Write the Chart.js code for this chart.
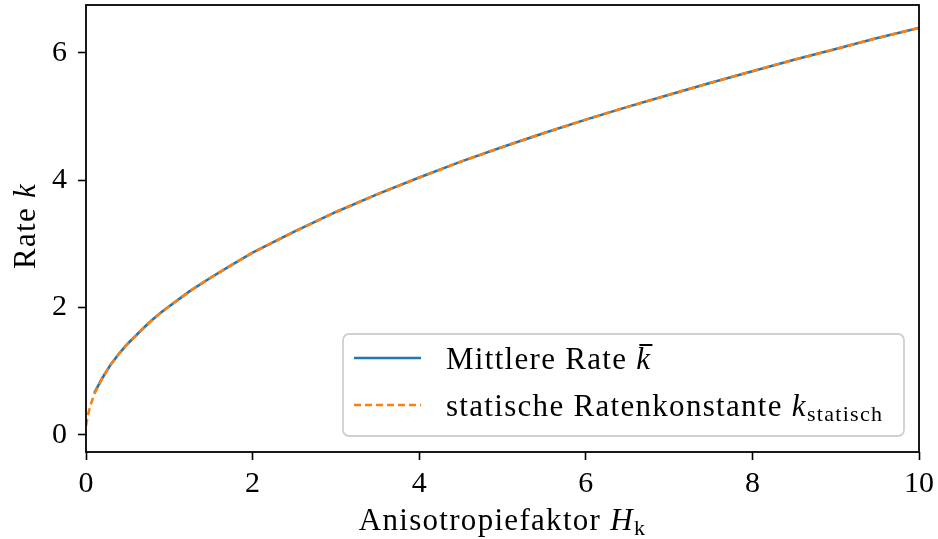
<!DOCTYPE html>
<html>
<head>
<meta charset="utf-8">
<script src="https://cdn.jsdelivr.net/npm/chart.js@4.4.1/dist/chart.umd.min.js"></script>
<style>
  html, body { margin: 0; padding: 0; background: #fff; }
  #wrap { width: 938px; height: 539px; }
</style>
</head>
<body>
<div id="wrap"><canvas id="rateChart" width="938" height="539"></canvas></div>
<script>
// mean rate (sampled)
const hMean = [0.1, 0.2, 0.3, 0.4, 0.5, 0.6, 0.7, 0.8, 0.9, 1.0, 1.25, 1.5, 1.75, 2.0, 2.5, 3.0, 3.5, 4.0, 4.5, 5.0, 5.5, 6.0, 6.5, 7.0, 7.5, 8.0, 8.5, 9.0, 9.5, 10.0];
const kMean = [0.66, 0.90, 1.11, 1.28, 1.43, 1.56, 1.69, 1.81, 1.92, 2.02, 2.26, 2.47, 2.67, 2.86, 3.19, 3.50, 3.78, 4.04, 4.29, 4.52, 4.74, 4.95, 5.15, 5.34, 5.53, 5.71, 5.89, 6.06, 6.23, 6.39];
// static rate constant
const hStatic = [0.0, 0.02, 0.05, 0.1, 0.2, 0.3, 0.4, 0.5, 0.6, 0.7, 0.8, 0.9, 1.0, 1.25, 1.5, 1.75, 2.0, 2.5, 3.0, 3.5, 4.0, 4.5, 5.0, 5.5, 6.0, 6.5, 7.0, 7.5, 8.0, 8.5, 9.0, 9.5, 10.0];
const kStatic = [0.14, 0.29, 0.45, 0.64, 0.90, 1.11, 1.28, 1.43, 1.56, 1.69, 1.81, 1.92, 2.02, 2.26, 2.47, 2.67, 2.86, 3.19, 3.50, 3.78, 4.04, 4.29, 4.52, 4.74, 4.95, 5.15, 5.34, 5.53, 5.71, 5.89, 6.06, 6.23, 6.39];
const xTicks = [0, 2, 4, 6, 8, 10];
const yTicks = [0, 2, 4, 6];

const FONT = '"Liberation Serif", "DejaVu Serif", serif';
const SPACING = '1.3px';
const toPts = (xs, ys) => xs.map((x, i) => ({x: x, y: ys[i]}));

// draws a run of text pieces, each with its own font and vertical shift
function drawRich(ctx, x, y, parts) {
    ctx.letterSpacing = SPACING;
    for (const p of parts) {
        ctx.font = p.font;
        ctx.fillText(p.text, x, y + (p.dy || 0));
        const w = ctx.measureText(p.text).width;
        if (p.bar) {
            ctx.fillRect(x + 3, y - 25, w - 2, 2);
        }
        x += w;
    }
    ctx.letterSpacing = '0px';
    return x;
}
function richWidth(ctx, parts) {
    let w = 0;
    ctx.letterSpacing = SPACING;
    for (const p of parts) { ctx.font = p.font; w += ctx.measureText(p.text).width; }
    ctx.letterSpacing = '0px';
    return w;
}

const decorations = {
    id: 'decorations',
    afterDraw(chart) {
        const ctx = chart.ctx;
        const a = chart.chartArea;
        ctx.save();
        // frame
        ctx.strokeStyle = '#000';
        ctx.lineWidth = 1.8;
        ctx.strokeRect(a.left, a.top, a.right - a.left, a.bottom - a.top);

        ctx.fillStyle = '#000';
        ctx.textBaseline = 'alphabetic';
        // x axis title
        const xt = [
            {text: 'Anisotropiefaktor ', font: '31px ' + FONT},
            {text: 'H', font: 'italic 31px ' + FONT},
            {text: 'k', font: '22px ' + FONT, dy: 5}
        ];
        const xw = richWidth(ctx, xt);
        drawRich(ctx, (a.left + a.right) / 2 - xw / 2, 530, xt);
        // y axis title
        const yt = [
            {text: 'Rate ', font: '31px ' + FONT},
            {text: 'k', font: 'italic 31px ' + FONT}
        ];
        const yw = richWidth(ctx, yt);
        ctx.translate(35, 226);
        ctx.rotate(-Math.PI / 2);
        drawRich(ctx, -yw / 2, 0, yt);
        ctx.setTransform(1, 0, 0, 1, 0, 0);

        // legend
        const bx = 343, by = 334, bw = 561, bh = 102;
        ctx.fillStyle = 'rgba(255,255,255,0.8)';
        ctx.strokeStyle = '#d0d0d0';
        ctx.lineWidth = 1.8;
        ctx.beginPath();
        ctx.roundRect(bx, by, bw, bh, 6);
        ctx.fill();
        ctx.stroke();

        const sets = chart.data.datasets;
        const rows = [
            [
                {text: 'Mittlere Rate ', font: '31px ' + FONT},
                {text: 'k', font: 'italic 31px ' + FONT, bar: true}
            ],
            [
                {text: 'statische Ratenkonstante ', font: '31px ' + FONT},
                {text: 'k', font: 'italic 31px ' + FONT},
                {text: 'statisch', font: '22px ' + FONT, dy: 5}
            ]
        ];
        const rowY = [358, 405];
        rows.forEach((parts, i) => {
            ctx.strokeStyle = sets[i].borderColor;
            ctx.lineWidth = sets[i].borderWidth;
            ctx.setLineDash(sets[i].borderDash || []);
            ctx.beginPath();
            ctx.moveTo(354, rowY[i]);
            ctx.lineTo(421, rowY[i]);
            ctx.stroke();
            ctx.setLineDash([]);
            ctx.fillStyle = '#000';
            drawRich(ctx, 446, rowY[i] + 11, parts);
        });
        ctx.restore();
    }
};

new Chart(document.getElementById('rateChart'), {
    type: 'line',
    data: {
        datasets: [
            {
                label: 'Mittlere Rate',
                data: toPts(hMean, kMean),
                borderColor: '#1f77b4',
                borderWidth: 2.6,
                pointRadius: 0,
                tension: 0,
                fill: false,
                order: 2
            },
            {
                label: 'statische Ratenkonstante',
                data: toPts(hStatic, kStatic),
                borderColor: '#ff7f0e',
                borderWidth: 2.6,
                borderDash: [7, 4],
                pointRadius: 0,
                tension: 0,
                fill: false,
                order: 1
            }
        ]
    },
    options: {
        responsive: false,
        animation: false,
        devicePixelRatio: 1,
        layout: { padding: { top: 5, right: 19, left: 0, bottom: 0 } },
        plugins: { legend: { display: false }, tooltip: { enabled: false } },
        scales: {
            x: {
                type: 'linear',
                min: 0,
                max: 10,
                afterBuildTicks: (s) => { s.ticks = xTicks.map(v => ({value: v})); },
                afterFit: (s) => { s.height = 87; s.paddingLeft = 0; s.paddingRight = 0; },
                grid: { drawOnChartArea: false, tickLength: 8, tickColor: '#000', tickWidth: 1.6 },
                border: { display: false },
                ticks: { color: '#000', font: { family: FONT, size: 30 }, padding: 6, maxRotation: 0 }
            },
            y: {
                type: 'linear',
                min: -0.27,
                max: 6.75,
                afterBuildTicks: (s) => { s.ticks = yTicks.map(v => ({value: v})); },
                afterFit: (s) => { s.width = 86; s.paddingTop = 0; s.paddingBottom = 0; },
                grid: { drawOnChartArea: false, tickLength: 8, tickColor: '#000', tickWidth: 1.6 },
                border: { display: false },
                ticks: { color: '#000', font: { family: FONT, size: 30 }, padding: 11 }
            }
        }
    },
    plugins: [decorations]
});
</script>
</body>
</html>
